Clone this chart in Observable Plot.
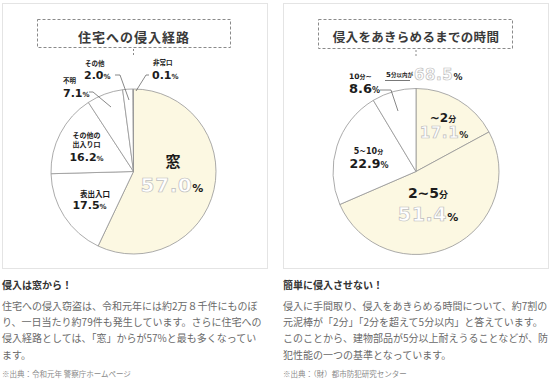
<!DOCTYPE html>
<html><head><meta charset="utf-8">
<script src="https://cdn.jsdelivr.net/npm/d3@7"></script>
<script src="https://cdn.jsdelivr.net/npm/@observablehq/plot@0.6"></script>
<style>
html,body{margin:0;padding:0;background:#fff;}
#chart svg{display:block;}
</style>
</head><body><div id="chart"></div>
<script>
// ---------- data ----------
const routeTitle = "住宅への侵入経路";
const routeCats = ["窓", "表出入口", "その他の出入り口", "不明", "その他", "非常口"];
const routeVals = [57.0, 17.5, 16.2, 7.1, 2.0, 0.1];

const timeTitle = "侵入をあきらめるまでの時間";
const timeCats = ["~2分", "2~5分", "5~10分", "10分~"];
const timeVals = [17.1, 51.4, 22.9, 8.6];
const timeSumLabel = "5分以内が";
const timeSumVal = 68.5;

const leftHead = "侵入は窓から！";
const leftBody = [
  "住宅への侵入窃盗は、令和元年には約2万８千件にものぼ",
  "り、一日当たり約79件も発生しています。さらに住宅への",
  "侵入経路としては、「窓」からが57%と最も多くなってい",
  "ます。"
];
const leftSource = "※出典：令和元年 警察庁ホームページ";
const rightHead = "簡単に侵入させない！";
const rightBody = [
  "侵入に手間取り、侵入をあきらめる時間について、約7割の",
  "元泥棒が「2分」「2分を超えて5分以内」と答えています。",
  "このことから、建物部品が5分以上耐えうることなどが、防",
  "犯性能の一つの基準となっています。"
];
const rightSource = "※出典：（財）都市防犯研究センター";

// ---------- layout / style (not data) ----------
const CREAM = "#fcf8e2", LINE = "#959595", INK = "#1c1c1c";
const JP = "'Noto Sans CJK JP', sans-serif";
const NUM = "'DejaVu Sans', sans-serif";

const panels = [
  {
    box: [2, 3, 267, 268], title: routeTitle, titleBox: [37, 19, 230, 47], titleX: 134, titleY: 38.5, titleSize: 13, titleLs: 1,
    cats: routeCats, vals: routeVals, cx: 133.5, cy: 171.5, r: 82.5, highlight: [0],
    labels: [
      {name: [[173, 167]], anchor: "middle", jpSize: 15, numSize: 15, val: [172, 192], valStyle: "out", valSize: 20, pctSize: 11},
      {name: [[95, 197]], anchor: "middle", jpSize: 7.5, numSize: 7.5, val: [89.5, 208.5], valStyle: "bold", valSize: 11, pctSize: 7},
      {name: [[86.5, 138], [86.5, 147]], split: 4, anchor: "middle", jpSize: 7, numSize: 7, val: [86.5, 160.5], valStyle: "bold", valSize: 11, pctSize: 7},
      {name: [[63, 83]], anchor: "start", jpSize: 6.5, numSize: 6.5, val: [63, 97], valStyle: "bold", valSize: 11, pctSize: 7, leader: [[89, 92], [93, 92], [111, 107]]},
      {name: [[85, 66]], anchor: "start", jpSize: 6.5, numSize: 6.5, val: [84, 78.5], valStyle: "bold", valSize: 11, pctSize: 7, leader: [[115, 75], [120, 75], [129, 100]]},
      {name: [[153, 65]], anchor: "start", jpSize: 6.5, numSize: 6.5, val: [152, 78.5], valStyle: "bold", valSize: 11, pctSize: 7, leader: [[149, 75], [146, 75], [136, 91]]}
    ]
  },
  {
    box: [283, 3, 548, 268], title: timeTitle, titleBox: [318, 19, 512, 48], titleX: 416, titleY: 38.5, titleSize: 12.5, titleLs: 0.3,
    cats: timeCats, vals: timeVals, cx: 416, cy: 171.5, r: 83, highlight: [0, 1],
    labels: [
      {name: [[443, 122]], anchor: "middle", jpSize: 8, numSize: 12, val: [444, 138], valStyle: "out", valSize: 15, pctSize: 9},
      {name: [[428, 198]], anchor: "middle", jpSize: 9, numSize: 14, val: [428, 221], valStyle: "out", valSize: 19, pctSize: 11},
      {name: [[368.5, 154]], anchor: "middle", jpSize: 6, numSize: 8, val: [369, 168], valStyle: "bold", valSize: 12.5, pctSize: 8},
      {name: [[349, 79]], anchor: "start", jpSize: 6, numSize: 7.5, val: [349, 93], valStyle: "bold", valSize: 13, pctSize: 8, leader: [[380, 90], [391, 90], [398, 111]]}
    ],
    sum: {label: timeSumLabel, val: timeSumVal, x: 386, y: 77, underline: [385, 410, 80.5], valX: 414, valY: 80, valSize: 15, pctSize: 9}
  }
];

const texts = [
  {x: 2, head: leftHead, body: leftBody, source: leftSource},
  {x: 283, head: rightHead, body: rightBody, source: rightSource}
];

// ---------- helpers ----------
function addSpans(text, el, jpSize, numSize) {
  const runs = text.match(/[0-9~.]+|[^0-9~.]+/g) || [];
  runs.forEach(run => {
    const isNum = /[0-9~.]/.test(run[0]);
    el.append("tspan").text(run)
      .attr("font-family", isNum ? NUM : JP)
      .attr("font-weight", "bold")
      .attr("font-size", isNum ? numSize : jpSize)
      .attr("fill", INK);
  });
}
function addValue(g, sx, sy, x, y, anchor, v, style, size, pctSize) {
  const t = g.append("text").attr("x", sx(x)).attr("y", sy(y)).attr("text-anchor", anchor);
  const num = t.append("tspan").text(v.toFixed(1)).attr("font-family", NUM).attr("font-size", size);
  if (style === "out") {
    num.attr("font-weight", "bold").attr("fill", "#fff").attr("stroke", "#bdbdbd").attr("stroke-width", 0.7).attr("letter-spacing", 0.6);
  } else {
    num.attr("font-weight", "bold").attr("fill", INK);
  }
  t.append("tspan").text("%").attr("font-family", NUM).attr("font-weight", "bold").attr("font-size", pctSize).attr("fill", INK).attr("stroke", "none");
}

function panelMark(p) {
  return (index, scales) => {
    const sx = scales.x || (v => v), sy = scales.y || (v => v);
    const g = d3.create("svg:g").attr("text-anchor", "start");
    g.append("rect").attr("x", sx(p.box[0]) + 0.5).attr("y", sy(p.box[1]) + 0.5)
      .attr("width", sx(p.box[2]) - sx(p.box[0])).attr("height", sy(p.box[3]) - sy(p.box[1]))
      .attr("fill", "none").attr("stroke", "#e4e4e4");
    const tb = p.titleBox;
    g.append("rect").attr("x", sx(tb[0]) + 0.5).attr("y", sy(tb[1]) + 0.5)
      .attr("width", sx(tb[2]) - sx(tb[0])).attr("height", sy(tb[3]) - sy(tb[1]))
      .attr("fill", "none").attr("stroke", "#8a8a8a").attr("stroke-dasharray", "3,2");
    g.append("line").attr("x1", sx(p.cx)).attr("x2", sx(p.cx)).attr("y1", sy(tb[3]) + 2).attr("y2", sy(tb[3]) + 9)
      .attr("stroke", "#8a8a8a").attr("stroke-dasharray", "2,2");
    g.append("text").text(p.title).attr("x", sx(p.titleX)).attr("y", sy(p.titleY))
      .attr("text-anchor", "middle").attr("dominant-baseline", "middle")
      .attr("font-family", JP).attr("font-weight", "bold").attr("font-size", p.titleSize)
      .attr("letter-spacing", p.titleLs).attr("fill", "#3a3a3a");
    const arcs = d3.pie().sort(null).value(d => d)(p.vals);
    const r = sx(p.cx + p.r) - sx(p.cx);
    const arc = d3.arc().innerRadius(0).outerRadius(r);
    const pg = g.append("g").attr("transform", `translate(${sx(p.cx)},${sy(p.cy)})`);
    pg.selectAll("path").data(arcs).join("path")
      .attr("d", arc)
      .attr("fill", (d, i) => p.highlight.includes(i) ? CREAM : "#fff")
      .attr("stroke", LINE).attr("stroke-width", 0.8).attr("stroke-linejoin", "round");
    p.labels.forEach((L, i) => {
      const name = p.cats[i];
      const parts = L.split ? [name.slice(0, L.split), name.slice(L.split)] : [name];
      parts.forEach((part, k) => {
        const t = g.append("text").attr("x", sx(L.name[k][0])).attr("y", sy(L.name[k][1])).attr("text-anchor", L.anchor);
        addSpans(part, t, L.jpSize, L.numSize);
      });
      addValue(g, sx, sy, L.val[0], L.val[1], L.anchor, p.vals[i], L.valStyle, L.valSize, L.pctSize);
      if (L.leader) {
        g.append("path").attr("d", d3.line().x(q => sx(q[0])).y(q => sy(q[1]))(L.leader))
          .attr("fill", "none").attr("stroke", "#555").attr("stroke-width", 0.7);
      }
    });
    if (p.sum) {
      const s = p.sum;
      const t = g.append("text").attr("x", sx(s.x)).attr("y", sy(s.y)).attr("text-anchor", "start");
      addSpans(s.label, t, 5.5, 7);
      g.append("line").attr("x1", sx(s.underline[0])).attr("x2", sx(s.underline[1]))
        .attr("y1", sy(s.underline[2])).attr("y2", sy(s.underline[2])).attr("stroke", "#555").attr("stroke-width", 0.8);
      addValue(g, sx, sy, s.valX, s.valY, "start", s.val, "out", s.valSize, s.pctSize);
    }
    return g.node();
  };
}

function textMark(T) {
  return (index, scales) => {
    const sx = scales.x || (v => v), sy = scales.y || (v => v);
    const g = d3.create("svg:g").attr("text-anchor", "start");
    g.append("text").text(T.head).attr("x", sx(T.x)).attr("y", sy(289)).attr("text-anchor", "start")
      .attr("font-family", JP).attr("font-weight", "bold").attr("font-size", 10).attr("fill", "#333");
    T.body.forEach((line, k) => {
      g.append("text").text(line).attr("x", sx(T.x)).attr("y", sy(310 + k * 16.2)).attr("text-anchor", "start")
        .attr("font-family", JP).attr("font-size", 10).attr("fill", "#6a6a6a");
    });
    g.append("text").text(T.source).attr("x", sx(T.x)).attr("y", sy(377)).attr("text-anchor", "start")
      .attr("font-family", JP).attr("font-size", 7.5).attr("fill", "#8a8a8a");
    return g.node();
  };
}

const chart = Plot.plot({
  width: 550, height: 388, margin: 0,
  x: {domain: [0, 550], range: [0, 550], axis: null},
  y: {domain: [0, 388], range: [0, 388], axis: null},
  style: {background: "#fff", overflow: "visible"},
  marks: [
    ...panels.map(panelMark),
    ...texts.map(textMark)
  ]
});
document.getElementById("chart").appendChild(chart);
</script>
</body></html>
